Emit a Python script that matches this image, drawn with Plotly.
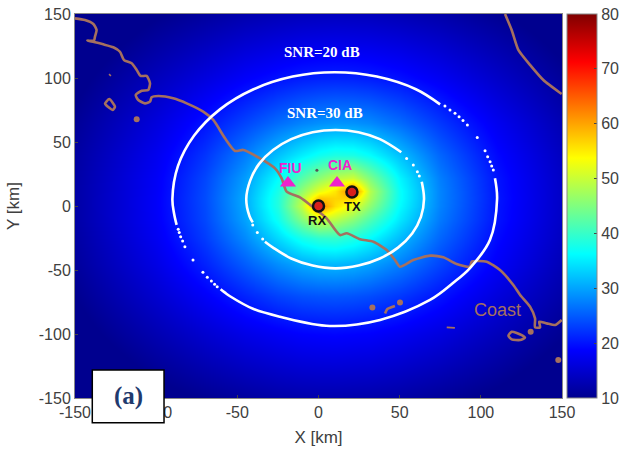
import plotly.graph_objects as go

# Grid nodes (km) and SNR (dB)
x_nodes = [-150, -100, -70, -45, -25, -10, 0, 10, 21, 32, 50, 75, 110, 150]
y_nodes = [-150, -100, -70, -45, -25, -10, 0, 6, 12, 22, 40, 65, 100, 150]
snr_rows = [
    [6.1, 8.8, 10.2, 11.2, 11.9, 12.2, 12.3, 12.3, 12.2, 12.1, 11.7, 10.8, 9.3, 7.1],
    [8.7, 12.7, 15.1, 16.9, 18.0, 18.7, 18.9, 19.0, 18.8, 18.6, 17.7, 16.2, 13.4, 10.2],
    [10.0, 15.0, 18.3, 21.1, 23.2, 24.2, 24.5, 24.6, 24.4, 23.9, 22.5, 20.0, 16.0, 11.9],
    [11.0, 16.7, 21.0, 25.1, 28.5, 30.4, 31.2, 31.4, 30.9, 29.9, 27.4, 23.4, 18.2, 13.1],
    [11.5, 17.7, 22.8, 28.2, 33.7, 37.7, 39.4, 39.7, 38.3, 36.2, 31.6, 25.7, 19.3, 13.9],
    [11.8, 18.2, 23.6, 29.9, 37.2, 45.4, 50.5, 49.2, 45.9, 41.7, 34.7, 27.1, 20.0, 14.2],
    [11.8, 18.3, 23.8, 30.4, 38.5, 49.6, 63.0, 56.0, 52.0, 45.9, 36.1, 27.7, 20.1, 14.3],
    [11.8, 18.3, 23.9, 30.5, 38.5, 48.6, 57.6, 56.7, 57.0, 47.8, 36.6, 27.8, 20.2, 14.3],
    [11.8, 18.2, 23.8, 30.2, 37.9, 46.3, 52.0, 55.3, 63.0, 48.6, 36.6, 27.8, 20.1, 14.3],
    [11.7, 18.1, 23.5, 29.5, 36.2, 42.1, 45.9, 49.0, 50.3, 44.8, 35.6, 27.4, 20.0, 14.2],
    [11.4, 17.5, 22.3, 27.3, 32.0, 35.2, 37.1, 38.2, 38.0, 36.3, 31.9, 25.7, 19.2, 13.8],
    [10.6, 16.1, 20.0, 23.4, 26.2, 27.8, 28.6, 29.0, 28.8, 28.2, 26.1, 22.5, 17.6, 12.8],
    [9.1, 13.5, 16.2, 18.4, 19.8, 20.6, 20.9, 21.0, 20.9, 20.6, 19.7, 17.8, 14.5, 10.8],
    [6.7, 9.7, 11.2, 12.4, 13.1, 13.5, 13.6, 13.7, 13.6, 13.5, 13.0, 12.1, 10.3, 7.9],
]

# SNR contours
snr20_top_x = [74.9, 60, 35.9, 10, -15.9, -40, -60.7, -76.6, -86.6, -90, -89, -87.4]
snr20_top_y = [79.4, 91.2, 101.1, 104.5, 101.1, 91.2, 75.5, 55, 31.1, 5.5, -5.7, -14.8]
snr20_bot_x = [-60.3, -57.6, -54.5, -40, -23.7, 7, 37.9, 68.7, 83, 93.3, 105.6, 110, 108.7]
snr20_bot_y = [-65, -67.7, -70.5, -80.5, -86.5, -93.7, -89, -73.4, -60, -48.5, -26.6, 5.5, 21.6]
snr20_dots_x = [77.9, 81, 84.1, 86.6, 89, 91.7, 97.8, 102.6, 104.2, 105.7, 106.7, 107.7,
                -86.4, -85.8, -84.9, -83.7, -82.3, -77.3, -71.2, -68.5, -66, -64, -62.4]
snr20_dots_y = [78.1, 75, 72.4, 69.8, 66.7, 63.3, 53.6, 43.2, 38.5, 34.6, 31.2, 28.1,
                -18.2, -20.8, -24, -27.3, -31.8, -42.2, -51.8, -55.7, -58.6, -61.2, -63]
snr30_top_x = [51, 37.8, 24.6, 10.5, -3.6, -16.8, -28, -36.7, -42.1, -44.5, -42.5, -40.5]
snr30_top_y = [42, 52.2, 57.6, 59.4, 57.6, 52.2, 43.7, 32.7, 19.8, 5.4, -8, -12.8]
snr30_bot_x = [-33, -28, -16.8, -3.6, 10.5, 24.6, 37.8, 49, 57.7, 63.1, 65, 63.6]
snr30_bot_y = [-27.9, -32.5, -41, -46.5, -48.7, -46.5, -41, -32.5, -21.5, -8.5, 5.4, 19]
snr30_dots_x = [54.3, 58.4, 60.9, 62.1, -40.5, -37.7, -34.4]
snr30_dots_y = [37.2, 32, 26.8, 23.4, -14.8, -20.8, -25.8]

# Coastline segments (km)
coast_x = [-150, -143.9, -138.7, -136.7, -137.7, -138.3, -142.4, -138.3, -132.6, -126.4, -122.3,
           -119.8, -115.1, -112, -109.6, -105.9, -103.8, -104.9, -108.9, -112.6, -111, -106.9,
           -103.8, -102.8, -98.7, -89.5, -81.2, -71, -64.8, -57.6, -51.4, -46.3, -36, -26.8,
           -22.7, -19.6, -11.4, -3.2, 5, 13.2, 17.4, 25.6, 33.8, 42, 47.1, 50.2, 58.4, 68.7,
           76.9, 85.1, 93.3, 94.4, 103.6, 111.8, 120, 124.2, 130.3, 133.4, 133.4, 136.5, 136,
           140.6, 145.7, 149.8]
coast_y = [146.6, 145.3, 142.2, 137.5, 132.3, 129.2, 129.2, 128.1, 126.3, 124, 120.5,
           114, 111.5, 106.3, 101.6, 101.6, 95.9, 90.6, 90.1, 86.7, 82.8, 80.2,
           81.5, 84.9, 85.9, 84.1, 80.2, 73.7, 67.2, 52.9, 43, 43.8, 37.2, 29.4,
           21.6, 11.2, 6.8, -1, -9.6, -22.7, -21.3, -26, -27.9, -34.4, -42.2, -47.4, -42.2, -38.8,
           -40.1, -45.3, -47.4, -43.5, -43.5, -50, -61.7, -69.5, -78.6, -87.8, -94.8, -94.8, -90.4,
           -91.7, -93, -89]
coast_ne_x = [114.9, 119, 123.1, 130.3, 138.5, 149.8]
coast_ne_y = [150, 137.5, 121.9, 110.2, 98.4, 87.5]
isle_se_x = [119, 125.2, 127.2, 124.2, 119, 117, 119]
isle_se_y = [-98.2, -100.8, -102.9, -104.7, -104.2, -101.3, -98.2]
isle_s_x = [41, 42.4, 47.1]
isle_s_y = [-83.9, -80.5, -78.1]
isle_m_x = [79, 84]
isle_m_y = [-94.8, -95.2]
isle_nw_x = [-128.9, -125.4, -126.8, -130.9, -131.5, -128.9]
isle_nw_y = [83.6, 77.6, 75, 78.9, 80, 83.6]
isle_nw2_x = [-129, -127.9]
isle_nw2_y = [103, 101.6]
blob_x = [130.7, 147.7, 33.2, 50.2, -112]
blob_y = [-98.2, -120.3, -79.2, -75.3, 67.7]

# Sites
station_x = [0, 20.6]
station_y = [0, 11]
receiver_x = [-18.8, 11.4]
receiver_y = [18, 18]
dot_x = [-1]
dot_y = [28]

tick_vals = [-150, -100, -50, 0, 50, 100, 150]
tick_text = ["-150", "-100", "-50", "0", "50", "100", "150"]
cbar_ticks = [10, 20, 30, 40, 50, 60, 70, 80]

COAST = "#a5705f"
GREY = "#404040"
JET = [[0, "rgb(0,0,143)"], [0.125, "rgb(0,0,255)"], [0.375, "rgb(0,255,255)"],
       [0.625, "rgb(255,255,0)"], [0.875, "rgb(255,0,0)"], [1, "rgb(128,0,0)"]]

fig = go.Figure()
fig.add_trace(go.Heatmap(
    x=x_nodes, y=y_nodes, z=snr_rows, colorscale=JET, zmin=10, zmax=80, zsmooth="best",
    colorbar=dict(thickness=30, thicknessmode="pixels", len=1, lenmode="fraction",
                  x=1.0103, xanchor="left", y=0.5, yanchor="middle", xpad=0, ypad=0,
                  tickvals=cbar_ticks, ticks="inside", ticklen=3,
                  tickcolor="#444", outlinecolor="#888", outlinewidth=1,
                  tickfont=dict(family="Liberation Sans", size=16, color=GREY)),
))


def line(xs, ys, color, width, smoothing=1.0):
    fig.add_trace(go.Scatter(x=xs, y=ys, mode="lines", showlegend=False, hoverinfo="skip",
                             line=dict(color=color, width=width, shape="spline", smoothing=smoothing)))


for xs, ys in [(coast_x, coast_y), (coast_ne_x, coast_ne_y), (isle_se_x, isle_se_y), (isle_s_x, isle_s_y),
               (isle_nw_x, isle_nw_y)]:
    line(xs, ys, COAST, 2.6, 0.6)
for xs, ys in [(isle_m_x, isle_m_y), (isle_nw2_x, isle_nw2_y)]:
    line(xs, ys, COAST, 1.6, 0.6)
fig.add_trace(go.Scatter(x=blob_x, y=blob_y, mode="markers", showlegend=False, hoverinfo="skip",
                         marker=dict(color=COAST, size=6)))

for xs, ys in [(snr20_top_x, snr20_top_y), (snr20_bot_x, snr20_bot_y), (snr30_top_x, snr30_top_y),
               (snr30_bot_x, snr30_bot_y)]:
    line(xs, ys, "white", 2.6)
fig.add_trace(go.Scatter(x=snr20_dots_x + snr30_dots_x, y=snr20_dots_y + snr30_dots_y, mode="markers",
                         showlegend=False, hoverinfo="skip", marker=dict(color="white", size=3)))

fig.add_trace(go.Scatter(x=dot_x, y=dot_y, mode="markers", showlegend=False, hoverinfo="skip",
                         marker=dict(color="#555", size=3)))
fig.add_trace(go.Scatter(x=receiver_x, y=receiver_y, mode="markers", showlegend=False, hoverinfo="skip",
                         marker=dict(color="#ee22cc", size=14, symbol="triangle-up")))
fig.add_trace(go.Scatter(x=station_x, y=station_y, mode="markers", showlegend=False, hoverinfo="skip",
                         marker=dict(color="#d8201c", size=11, line=dict(color="#111", width=2.5))))

axis = dict(range=[-150, 150], tickvals=tick_vals, ticktext=tick_text, ticks="inside", ticklen=3,
            tickcolor="#444", showgrid=True, gridcolor="rgba(0,0,0,0.14)", gridwidth=1, zeroline=False,
            showline=True, linecolor="#888", linewidth=1, mirror=True,
            tickfont=dict(family="Liberation Sans", size=16, color=GREY))

fig.update_layout(
    width=622, height=450, margin=dict(l=75, r=60, t=14, b=52, autoexpand=False), paper_bgcolor="white",
    plot_bgcolor="white", showlegend=False,
    xaxis=dict(axis, automargin=False,
               title=dict(text="X [km]", standoff=10,
                          font=dict(family="Liberation Sans", size=17, color=GREY))),
    yaxis=dict(axis, automargin=False,
               title=dict(text="Y [km]", standoff=14,
                          font=dict(family="Liberation Sans", size=17, color=GREY))),
    shapes=[dict(type="rect", xref="paper", yref="paper", x0=0.0355, x1=0.1828, y0=-0.0643, y1=0.0729,
                 fillcolor="white", line=dict(color="black", width=1.5), layer="above")],
)


def label(x, y, text, color, size, family="Liberation Sans", bold=False):
    fig.add_annotation(x=x, y=y, text=f"<b>{text}</b>" if bold else text, showarrow=False,
                       xanchor="center", yanchor="middle",
                       font=dict(family=family, size=size, color=color))


label(2, 120, "SNR=20 dB", "white", 15, "Liberation Serif", True)
label(4, 73, "SNR=30 dB", "white", 15, "Liberation Serif", True)
label(-17, 30, "FIU", "#ee22cc", 14, bold=True)
label(13, 32, "CIA", "#ee22cc", 14, bold=True)
label(-1, -11, "RX", "#111", 13, bold=True)
label(21, 0, "TX", "#111", 13, bold=True)
label(110, -81, "Coast", COAST, 18)
fig.add_annotation(xref="paper", yref="paper", x=0.109, y=0.004, text="<b>(a)</b>", showarrow=False,
                   xanchor="center", yanchor="middle",
                   font=dict(family="Liberation Serif", size=25, color="#1f3a6e"))

fig.write_html("out.html", config=dict(displayModeBar=False),
               post_script="document.body.style.margin='0';document.body.style.overflow='hidden';")
